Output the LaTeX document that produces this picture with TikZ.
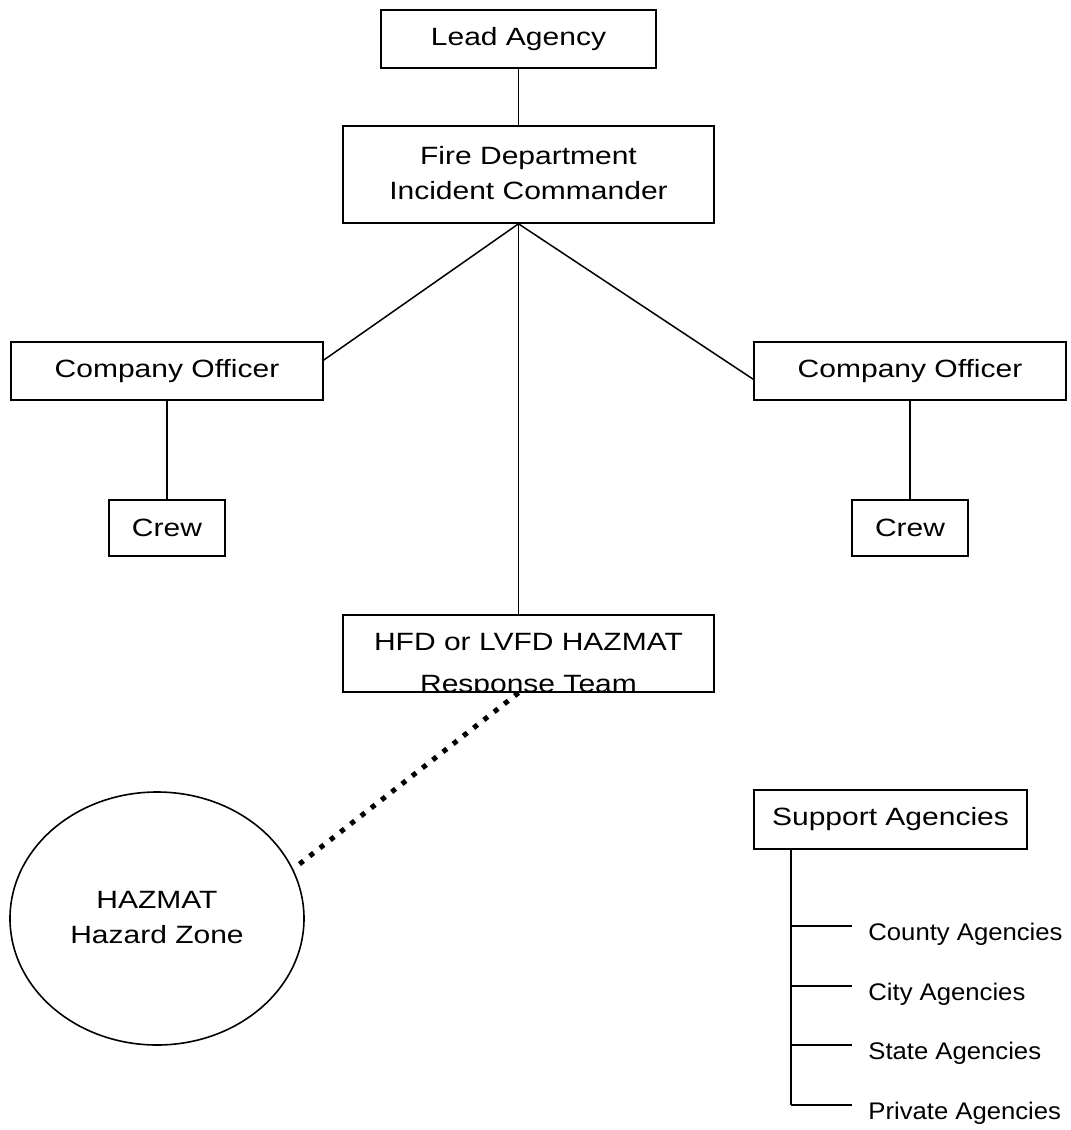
\documentclass[tikz,border=0pt]{standalone}
\usepackage{fontspec}
\setmainfont{Liberation Sans}[FakeStretch=1.2]
\newfontfamily\agencyfont{Liberation Sans}[FakeStretch=1.07]
\usepackage{tikz}
\usetikzlibrary{shapes.geometric}

\begin{document}
\begin{tikzpicture}[x=0.5pt,y=-0.5pt,
    box/.style={draw,line width=0.8pt,inner sep=0pt,align=center,
      font=\fontsize{12.5}{17.5}\selectfont},
    link/.style={line width=0.75pt},
    agency/.style={anchor=base west,inner sep=0pt,
      font=\agencyfont\fontsize{12}{14}\selectfont}]
    \useasboundingbox (0,0) rectangle (1071,1130);

    \node[box,minimum width=137.5pt,minimum height=29pt] (lead) at (518.5,39) {Lead Agency};
    \node[box,minimum width=185.5pt,minimum height=48.5pt,text depth=2pt] (fdic) at (528.5,174.5)
      {Fire Department\\Incident Commander};
    \node[box,minimum width=156pt,minimum height=29pt] (coleft) at (167,371) {Company Officer};
    \node[box,minimum width=156pt,minimum height=29pt] (coright) at (910,371) {Company Officer};
    \node[box,minimum width=58pt,minimum height=28pt] (crewleft) at (167,528) {Crew};
    \node[box,minimum width=58pt,minimum height=28pt] (crewright) at (910,528) {Crew};
    \node[box,minimum width=185.5pt,minimum height=38.5pt,
      path picture={\node[align=center,inner sep=0pt,font=\fontsize{12.5}{21}\selectfont]
        at ([yshift=-6pt]path picture bounding box.center) {HFD or LVFD HAZMAT\\Response Team};}]
      (team) at (528.5,653.5) {};
    \node[box,ellipse,minimum width=147pt,minimum height=126.5pt,text depth=1.5pt,
      font=\fontsize{12.5}{17.5}\selectfont] (zone) at (157,918.5) {HAZMAT\\Hazard Zone};
    \node[box,minimum width=136.5pt,minimum height=29.5pt] (support) at (890.5,819.5) {Support Agencies};

    \draw[link] (lead) -- (lead |- fdic.north);
    \draw[link] (lead |- fdic.south) -- (coleft.4);
    \draw[link] (lead |- fdic.south) -- (coright.183);
    \draw[link] (lead |- fdic.south) -- (lead |- team.north);
    \draw[link] (coleft) -- (crewleft);
    \draw[link] (coright) -- (crewright);
    \draw[line width=2.5pt,dash pattern=on 2.5pt off 4pt] (lead |- team.south) -- (zone.20);

    \coordinate (spine) at ([xshift=19pt]support.south west);
    \foreach \name/\kind/\y in {county/County/940,city/City/1000,state/State/1059,private/Private/1119} {
      \node[agency] (\name) at (868,\y) {\kind{} Agencies};
      \coordinate (\name-stub) at ([xshift=-8pt,yshift=7pt]\name.base west);
      \draw[link] (spine |- \name-stub) -- (\name-stub);
    }
    \draw[link] (spine) -- (spine |- private-stub);
  \end{tikzpicture}
\end{document}
